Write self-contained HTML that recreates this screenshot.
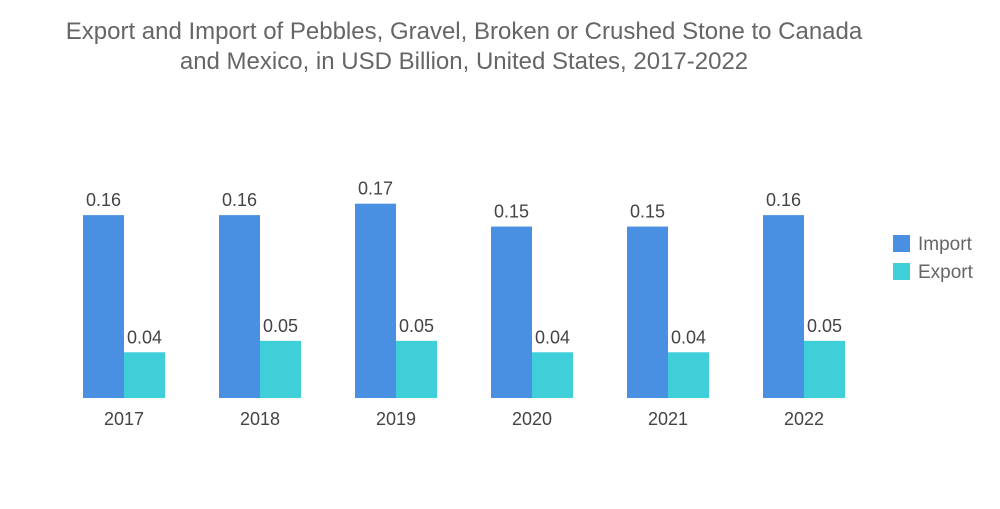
<!DOCTYPE html>
<html><head><meta charset="utf-8"><style>
html,body{margin:0;padding:0;background:#fff;}
body{width:1000px;height:504px;overflow:hidden;font-family:"Liberation Sans",sans-serif;}
</style></head><body>
<svg width="1000" height="504" xmlns="http://www.w3.org/2000/svg" id="chart">
<text x="464" y="39" text-anchor="middle" font-size="24" fill="#666">Export and Import of Pebbles, Gravel, Broken or Crushed Stone to Canada</text>
<text x="464" y="69" text-anchor="middle" font-size="24" fill="#666">and Mexico, in USD Billion, United States, 2017-2022</text>
<g id="bars"></g>
<rect x="893" y="235" width="17" height="17" fill="#4a90e2"/>
<text x="918" y="250" font-size="19" fill="#666">Import</text>
<rect x="893" y="263" width="17" height="17" fill="#3ecfd9"/>
<text x="918" y="278" font-size="19" fill="#666">Export</text>
</svg>
<script>
const categories = ["2017","2018","2019","2020","2021","2022"];
const importValues = [0.16,0.16,0.17,0.15,0.15,0.16];
const exportValues = [0.04,0.05,0.05,0.04,0.04,0.05];
const baseY = 398, pxPerUnit = 1143, x0 = 124, step = 136, bw = 41;
const ns = "http://www.w3.org/2000/svg";
const g = document.getElementById("bars");
function y(v){ return baseY - v*pxPerUnit; }
function cx(i){ return x0 + i*step; }
function mk(tag, attrs, txt){ const e=document.createElementNS(ns,tag); for(const k in attrs) e.setAttribute(k,attrs[k]); if(txt!==undefined) e.textContent=txt; g.appendChild(e); return e; }
categories.forEach((c,i)=>{
  const xi = cx(i);
  [[importValues[i],"#4a90e2",xi-bw,"import"],[exportValues[i],"#3ecfd9",xi,"export"]].forEach(([v,col,x,s])=>{
    const r = mk("rect",{x:x,y:y(v),width:bw,height:baseY-y(v),fill:col});
    
    
    const t = mk("text",{x:x+bw/2,y:y(v)-9,"text-anchor":"middle","font-size":"18",fill:"#444"},v.toFixed(2));
    
    
  });
  const l = mk("text",{x:xi,y:425,"text-anchor":"middle","font-size":"18",fill:"#444"},c);
  
  
});
</script>
</body></html>
